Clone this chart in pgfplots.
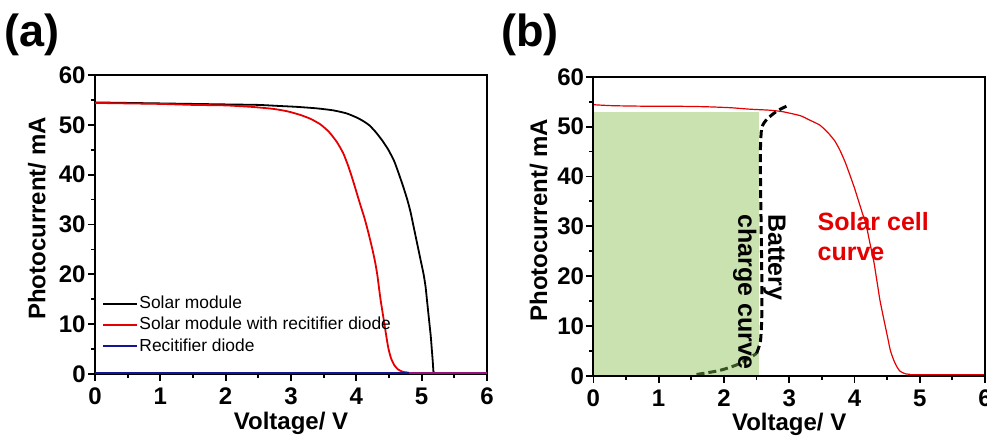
\documentclass[border=0pt]{standalone}
\usepackage{fontspec}
\setmainfont{Liberation Sans}
\usepackage{pgfplots}
\pgfplotsset{compat=1.18}
\definecolor{myred}{RGB}{228,0,0}
\definecolor{myblue}{RGB}{20,20,150}
\definecolor{mypurple}{RGB}{150,20,130}
\definecolor{myfill}{RGB}{202,226,176}
\definecolor{mydkgreen}{RGB}{55,85,35}
\pgfplotsset{mystyle/.style={
  scale only axis, width=196pt, height=149.5pt,
  xmin=0, xmax=6, ymin=0, ymax=60,
  xtick={0,...,6}, ytick={0,10,...,60},
  minor x tick num=1, minor y tick num=1,
  tick align=outside, xtick pos=bottom, ytick pos=left,
  major tick length=3.5pt, minor tick length=2pt,
  axis line style={line width=1pt},
  every tick/.style={line width=0.9pt, black},
  /pgf/number format/assume math mode=true,
  ticklabel style={font=\bfseries\fontsize{12}{14}\selectfont},
  yticklabel style={inner sep=1pt},
  xlabel={Voltage/ V}, ylabel={Photocurrent/ mA},
  label style={font=\bfseries\fontsize{12}{14}\selectfont},
  xlabel style={at={(axis description cs:0.5,-0.184)}, anchor=base},
}}
\begin{document}
\begin{tikzpicture}
\path[use as bounding box] (0,0) rectangle (493.5pt,217.5pt);
\node[font=\bfseries\fontsize{22.5}{26}\selectfont] at (16pt,200pt) {(a)};
\node[font=\bfseries\fontsize{22.5}{26}\selectfont] at (265pt,200pt) {(b)};
\begin{axis}[mystyle, at={(47.5pt,30.5pt)}, anchor=south west,
  ylabel style={at={(axis description cs:-0.148,0.52)}, anchor=center},
  legend style={at={(0.018,0.06)}, anchor=south west, draw=none, fill=none,
    inner sep=0pt, row sep=1.4pt, font=\fontsize{8.7}{10}\selectfont,
    nodes={inner sep=0.5pt, text height=6.5pt, text depth=1.8pt},
    cells={anchor=west}},
  legend image code/.code={\draw[#1, line width=1pt] (0pt,0pt) -- (17pt,0pt);}]
\addplot[black, line width=0.9pt, smooth, tension=0.35] coordinates {
(0,54.5)(0.5,54.4)(1,54.3)(1.5,54.2)(2,54.1)(2.5,54.0)(2.8,53.8)(3.1,53.6)(3.4,53.3)
(3.65,52.9)(3.85,52.3)(4.0,51.5)(4.1,50.8)(4.2,49.9)(4.3,48.5)(4.4,46.8)(4.49,45.0)
(4.58,42.7)(4.65,40.2)(4.72,37.5)(4.78,35.0)(4.83,32.5)(4.87,30.0)(4.91,27.5)(4.95,25)
(4.99,22.5)(5.03,20)(5.06,17.5)(5.08,15)(5.10,12.5)(5.12,10)(5.14,7.5)(5.155,5)
(5.17,2.5)(5.18,0.5)(5.19,0.3)};
\addlegendentry{Solar module}
\addplot[black, line width=0.9pt, forget plot] coordinates {(5.19,0.3)(6,0.3)};
\addplot[myred, line width=0.9pt, smooth, tension=0.35] coordinates {
(0,54.4)(0.5,54.3)(1,54.2)(1.5,54.0)(2.0,53.9)(2.4,53.6)(2.73,53.2)(2.95,52.7)(3.14,52.0)
(3.3,51.2)(3.45,50.1)(3.58,48.6)(3.7,46.6)(3.8,44.3)(3.88,41.6)(3.94,39.2)(4.0,36.6)
(4.06,34.0)(4.12,31.5)(4.17,29.1)(4.21,27.0)(4.25,24.8)(4.29,22.3)(4.32,20)(4.345,17.5)(4.37,15)
(4.40,12.5)(4.43,10)(4.46,7.5)(4.49,5.2)(4.53,3.2)(4.58,1.8)(4.64,0.9)(4.72,0.4)(4.8,0.3)};
\addlegendentry{Solar module with recitifier diode}
\addplot[myred, line width=0.9pt, forget plot] coordinates {(4.8,0.3)(6,0.3)};
\addplot[myblue, line width=1pt] coordinates {(0,0.3)(4.8,0.3)};
\addlegendentry{Recitifier diode}
\addplot[mypurple, line width=1pt, forget plot] coordinates {(4.8,0.3)(6,0.3)};
\end{axis}
\begin{axis}[mystyle, at={(296.7pt,29.6pt)}, anchor=south west, axis on top,
  width=195.8pt,
  ylabel style={at={(axis description cs:-0.14,0.52)}, anchor=center}]
\addplot[draw=none, fill=myfill] coordinates {(0,0)(0,52.9)(2.53,52.9)(2.53,0)} -- cycle;
\addplot[myred, line width=0.6pt, smooth, tension=0.35] coordinates {
(0,54.4)(0.3,54.2)(0.8,54.1)(1.2,54.1)(1.7,54.0)(2.1,53.8)(2.4,53.5)(2.7,53.3)(2.9,53.0)
(3.17,52.2)(3.3,51.4)(3.47,50.3)(3.6,48.7)(3.7,47.1)(3.78,45.2)(3.86,42.8)(3.93,40.3)
(4.0,37.7)(4.06,35.2)(4.12,32.7)(4.18,30.3)(4.22,27.7)(4.26,25.2)(4.3,22.7)(4.33,20.2)
(4.36,17.7)(4.39,15.2)(4.43,12.6)(4.47,10.1)(4.51,7.6)(4.55,5.1)(4.6,3.2)(4.65,1.8)
(4.7,0.9)(4.78,0.4)(4.85,0.3)};
\addplot[myred, line width=0.6pt] coordinates {(4.85,0.3)(6,0.3)};
\addplot[mydkgreen, line width=1.5pt, dash pattern=on 4pt off 2pt, smooth] coordinates {
(1.58,0.27)(1.94,1.1)(2.25,2.5)(2.5,4.5)};
\addplot[black, line width=1.5pt, dash pattern=on 4pt off 2pt, smooth, tension=0.4] coordinates {
(2.5,4.5)(2.56,7)(2.58,12)(2.58,20)(2.57,30)(2.56,40)(2.56,45.8)(2.58,49.8)(2.66,51.5)
(2.81,53.1)(2.99,54.3)};
\node[rotate=-90, anchor=north west, inner sep=0pt, align=left,
  font=\bfseries\fontsize{12.5}{15}\selectfont] at (axis cs:2.95,32.5) {Battery\\charge curve};
\node[anchor=north west, inner sep=0pt, align=left, text=myred,
  font=\bfseries\fontsize{12.5}{15}\selectfont] at (axis cs:3.43,32.9) {Solar cell\\curve};
\end{axis}
\end{tikzpicture}
\end{document}
